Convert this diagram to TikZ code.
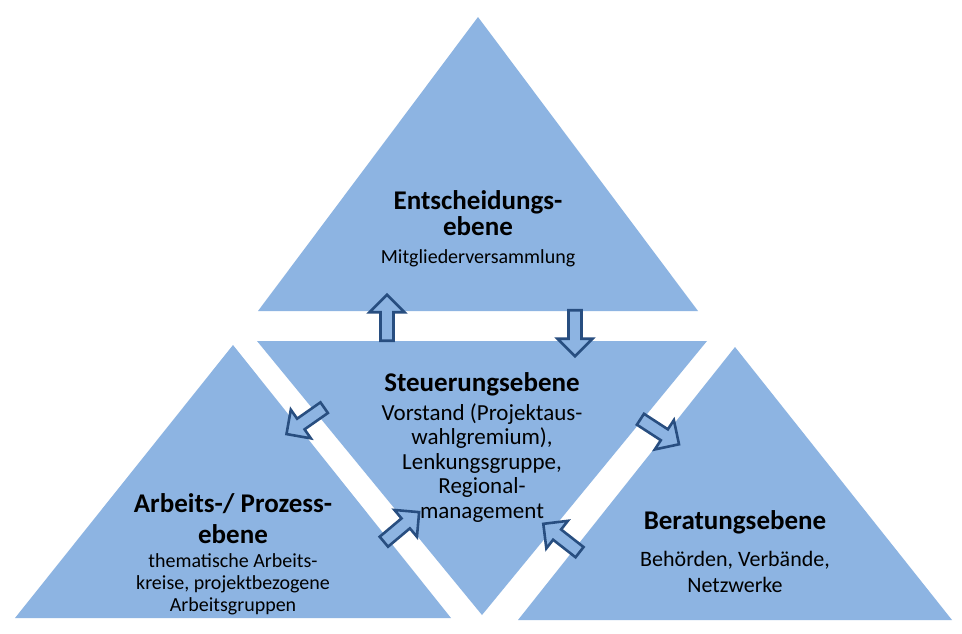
\documentclass[tikz,border=0pt]{standalone}
\usepackage{fontspec}
\setmainfont{Carlito}
\usetikzlibrary{shapes.arrows}
\definecolor{ebenefill}{RGB}{141,180,226}
\definecolor{pfeilblau}{RGB}{40,78,128}
\tikzset{
	ebene/.style={fill=ebenefill},
	pfeil/.style={single arrow, draw=pfeilblau, fill=ebenefill, line width=2.6pt,
		minimum height=46pt, inner xsep=0pt, inner ysep=5.2pt,
		single arrow head extend=11pt},
	titel/.style={font=\bfseries\fontsize{27}{26}\selectfont, align=center, anchor=base, inner sep=0pt},
	beschr/.style={align=center, anchor=base, inner sep=0pt}
}

\begin{document}
\begin{tikzpicture}[x=1pt,y=-1pt]
		% Background.
		\fill[white] (0,0) rectangle (962,633);
		% Draw triangles.
		\coordinate (oben) at (478,17);
		\coordinate (obenL) at (258,311);
		\coordinate (obenR) at (698,311);
		\coordinate (mitteL) at (257,341);
		\coordinate (mitteR) at (707,341);
		\coordinate (mitte) at (482,615);
		\coordinate (links) at (233,345);
		\coordinate (linksL) at (15,618);
		\coordinate (linksR) at (451,618);
		\coordinate (rechts) at (735,347);
		\coordinate (rechtsL) at (518,620);
		\coordinate (rechtsR) at (952,620);
		\fill[ebene] (oben) -- (obenL) -- (obenR) -- cycle;
		\fill[ebene] (mitteL) -- (mitteR) -- (mitte) -- cycle;
		\fill[ebene] (links) -- (linksL) -- (linksR) -- cycle;
		\fill[ebene] (rechts) -- (rechtsL) -- (rechtsR) -- cycle;
		
		% Texts (base = last line).
		\node[titel] (entTitel) at (478,235) {Entscheidungs-\\ebene};
		\node[beschr, font=\fontsize{20}{24}\selectfont] (entText) at (478,263) {Mitgliederversammlung};
		\node[titel] (steuTitel) at (482,391) {Steuerungsebene};
		\node[beschr, font=\fontsize{23}{24.5}\selectfont] (steuText) at (482,518)
			{Vorstand (Projektaus-\\wahlgremium),\\Lenkungsgruppe,\\Regional-\\management};
		\node[titel, font=\bfseries\fontsize{27}{31}\selectfont] (arbTitel) at (233,543) {Arbeits-/ Prozess-\\ebene};
		\node[beschr, font=\fontsize{20}{21.7}\selectfont] (arbText) at (233,611)
			{thematische Arbeits-\\kreise, projektbezogene\\Arbeitsgruppen};
		\node[titel] (berTitel) at (735,529) {Beratungsebene};
		\node[beschr, font=\fontsize{22}{26}\selectfont] (berText) at (735,592) {Behörden, Verbände,\\Netzwerke};
		
		% Arrows.
		\node[pfeil, rotate=90] (p1) at (387,321) {};
		\node[pfeil, rotate=-90] (p2) at (575,330) {};
		\node[pfeil, rotate=215] (p3) at (308,419) {};
		\node[pfeil, rotate=-33] (p4) at (657,430) {};
		\node[pfeil, rotate=40] (p5) at (399,529) {};
		\node[pfeil, rotate=142] (p6) at (564,540) {};
	\end{tikzpicture}
\end{document}
